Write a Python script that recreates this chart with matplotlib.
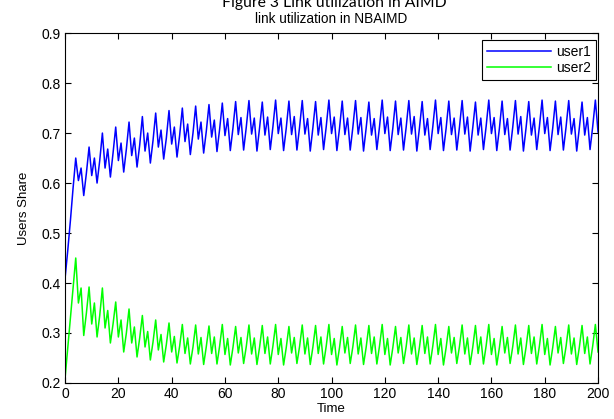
import numpy as np
import matplotlib
matplotlib.use('Agg')
import matplotlib.pyplot as plt

plt.rcParams['font.family'] = ['Liberation Sans', 'DejaVu Sans']

# ---------------------------------------------------------
# share of each user, one sample per time step (t = 0..200)
# ---------------------------------------------------------
time = np.arange(201)

user1 = [
    0.410, 0.465, 0.525, 0.590, 0.650, 0.605, 0.630, 0.575, 0.620, 0.672,
    0.615, 0.650, 0.600, 0.645, 0.700, 0.630, 0.668, 0.612, 0.660, 0.712,
    0.645, 0.680, 0.622, 0.668, 0.722, 0.655, 0.690, 0.632, 0.676, 0.733,
    0.664, 0.700, 0.640, 0.685, 0.740, 0.672, 0.706, 0.648, 0.690, 0.745,
    0.678, 0.712, 0.652, 0.696, 0.750, 0.683, 0.718, 0.657, 0.700, 0.754,
    0.688, 0.722, 0.660, 0.704, 0.757, 0.692, 0.726, 0.663, 0.708, 0.760,
    0.695, 0.729, 0.665, 0.710, 0.763, 0.697, 0.731, 0.666, 0.712, 0.765,
    0.698, 0.730, 0.664, 0.711, 0.762, 0.696, 0.732, 0.667, 0.713, 0.766,
    0.699, 0.730, 0.665, 0.710, 0.764, 0.697, 0.733, 0.666, 0.712, 0.765,
    0.698, 0.729, 0.664, 0.711, 0.763, 0.696, 0.731, 0.667, 0.713, 0.766,
    0.699, 0.732, 0.665, 0.710, 0.764, 0.697, 0.730, 0.666, 0.712, 0.765,
    0.698, 0.731, 0.664, 0.711, 0.762, 0.696, 0.729, 0.667, 0.713, 0.766,
    0.699, 0.732, 0.665, 0.710, 0.764, 0.697, 0.730, 0.666, 0.712, 0.765,
    0.698, 0.733, 0.664, 0.711, 0.763, 0.696, 0.729, 0.667, 0.713, 0.766,
    0.699, 0.731, 0.665, 0.710, 0.764, 0.697, 0.730, 0.666, 0.712, 0.765,
    0.698, 0.732, 0.664, 0.711, 0.762, 0.696, 0.730, 0.667, 0.713, 0.766,
    0.699, 0.731, 0.665, 0.710, 0.764, 0.697, 0.729, 0.666, 0.712, 0.765,
    0.698, 0.733, 0.664, 0.711, 0.763, 0.696, 0.730, 0.667, 0.713, 0.766,
    0.699, 0.731, 0.665, 0.710, 0.764, 0.697, 0.732, 0.666, 0.712, 0.765,
    0.698, 0.729, 0.664, 0.711, 0.762, 0.696, 0.731, 0.667, 0.713, 0.766,
    0.702,
]

user2 = [
    0.210, 0.270, 0.330, 0.390, 0.450, 0.360, 0.390, 0.295, 0.340, 0.392,
    0.318, 0.360, 0.292, 0.335, 0.390, 0.310, 0.345, 0.280, 0.318, 0.362,
    0.292, 0.326, 0.262, 0.300, 0.348, 0.280, 0.312, 0.252, 0.290, 0.335,
    0.272, 0.303, 0.246, 0.282, 0.326, 0.266, 0.297, 0.242, 0.277, 0.320,
    0.262, 0.293, 0.240, 0.274, 0.317, 0.259, 0.290, 0.238, 0.272, 0.316,
    0.258, 0.291, 0.237, 0.273, 0.314, 0.259, 0.292, 0.238, 0.274, 0.317,
    0.257, 0.289, 0.236, 0.271, 0.313, 0.260, 0.291, 0.239, 0.273, 0.316,
    0.258, 0.290, 0.237, 0.272, 0.315, 0.259, 0.292, 0.238, 0.274, 0.317,
    0.257, 0.289, 0.236, 0.271, 0.313, 0.260, 0.291, 0.239, 0.273, 0.316,
    0.258, 0.290, 0.237, 0.272, 0.315, 0.259, 0.292, 0.238, 0.274, 0.317,
    0.257, 0.289, 0.236, 0.271, 0.313, 0.260, 0.291, 0.239, 0.273, 0.316,
    0.258, 0.290, 0.237, 0.272, 0.315, 0.259, 0.292, 0.238, 0.274, 0.317,
    0.257, 0.289, 0.236, 0.271, 0.313, 0.260, 0.291, 0.239, 0.273, 0.316,
    0.258, 0.290, 0.237, 0.272, 0.315, 0.259, 0.292, 0.238, 0.274, 0.317,
    0.257, 0.289, 0.236, 0.271, 0.313, 0.260, 0.291, 0.239, 0.273, 0.316,
    0.258, 0.290, 0.237, 0.272, 0.315, 0.259, 0.292, 0.238, 0.274, 0.317,
    0.257, 0.289, 0.236, 0.271, 0.313, 0.260, 0.291, 0.239, 0.273, 0.316,
    0.258, 0.290, 0.237, 0.272, 0.315, 0.259, 0.292, 0.238, 0.274, 0.317,
    0.257, 0.289, 0.236, 0.271, 0.313, 0.260, 0.291, 0.239, 0.273, 0.316,
    0.258, 0.290, 0.237, 0.272, 0.315, 0.259, 0.292, 0.238, 0.274, 0.317,
    0.262,
]

xticks = np.arange(0, 201, 20)
yticks = np.arange(0.2, 0.91, 0.1)

# =========================================================
fig = plt.figure(figsize=(6.14, 4.19), dpi=100)
ax = fig.add_axes([0.106, 0.086, 0.868, 0.835])

ax.plot(time, user1, color='#0000ff', lw=1.1, label='user1')
ax.plot(time, user2, color='#00ff00', lw=1.1, label='user2')

ax.set_xlim(0, 200)
ax.set_ylim(0.2, 0.9)
ax.set_xticks(xticks)
ax.set_yticks(yticks)
ax.set_yticklabels([f'{v:.1f}' for v in yticks])
ax.tick_params(direction='in', top=True, right=True, length=4, width=0.8,
               labelsize=10, pad=3)
for s in ax.spines.values():
    s.set_linewidth(0.8)

ax.set_xlabel('Time', fontsize=9.5, labelpad=1)
ax.set_ylabel('Users Share', fontsize=9.5, labelpad=8)
ax.set_title('link utilization in NBAIMD', fontsize=9.8, pad=7)

# legend box tucked into the upper right corner
leg = ax.legend(loc='upper right', bbox_to_anchor=(0.997, 0.98),
                fontsize=10, handlelength=4.6, handletextpad=0.4,
                fancybox=False, framealpha=1, edgecolor='black',
                borderpad=0.35, labelspacing=0.15, borderaxespad=0)
leg.get_frame().set_linewidth(0.8)

# caption line above the chart, partly cut off by the top edge
fig.text(0.545, 1 - 7 / 419, 'Figure 3 Link utilization in AIMD', ha='center',
         va='baseline', fontsize=11.3, family=['Lato', 'DejaVu Sans'])

fig.savefig('out.png', dpi=100)
